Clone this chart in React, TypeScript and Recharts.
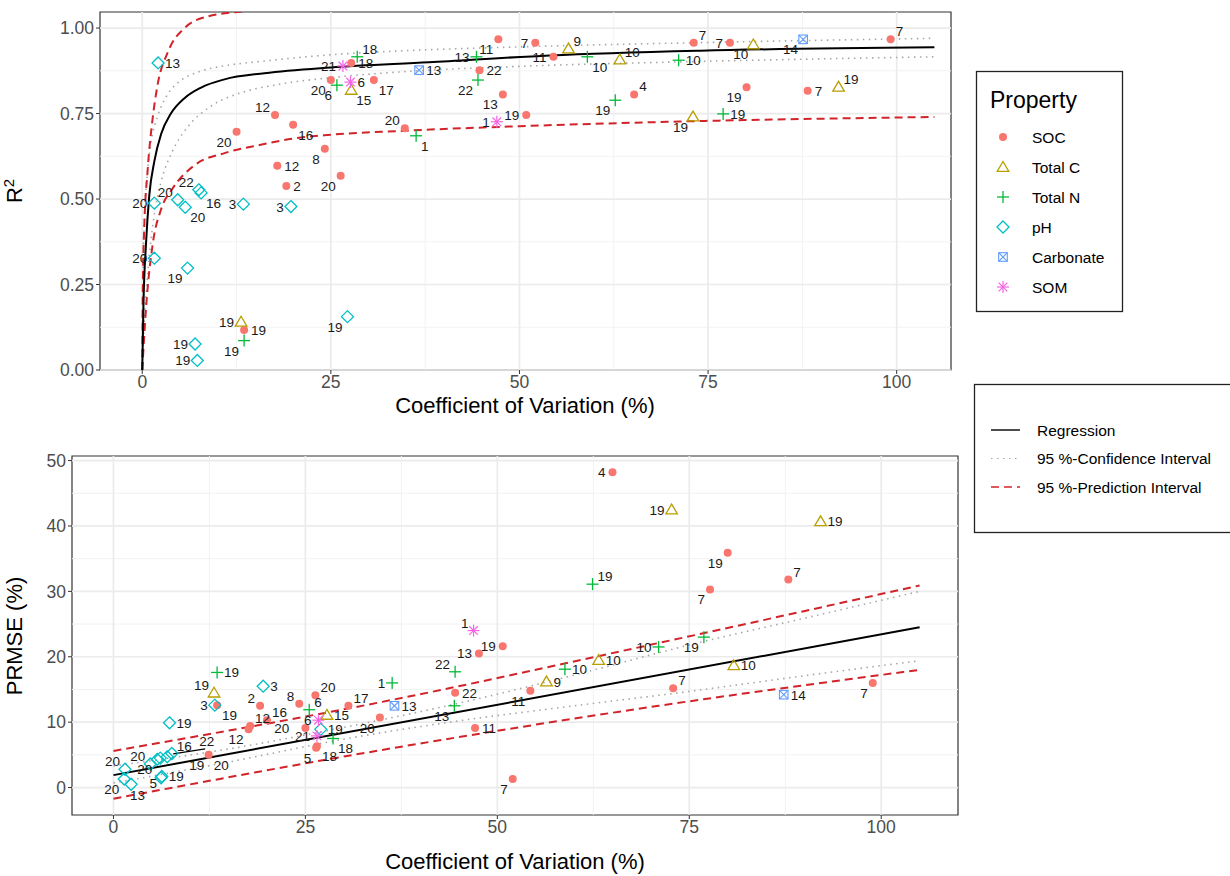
import React from 'react';
import { ScatterChart, Scatter, XAxis, YAxis, ReferenceLine, ReferenceArea } from 'recharts';

type Pt = [number, number, string];
type XY = [number, number];

const FONT = '"Liberation Sans", Arial, sans-serif';

// axes
const cvTicks = [0, 25, 50, 75, 100];
const cvMinor = [12.5, 37.5, 62.5, 87.5];
const r2Ticks = [0, 0.25, 0.5, 0.75, 1];
const r2Minor = [0.125, 0.375, 0.625, 0.875];
const prTicks = [0, 10, 20, 30, 40, 50];
const prMinor = [5, 15, 25, 35, 45];

// ---- top panel: R2 vs CV, [cv, r2, study] ----
const socR2: Pt[] = [
  [99.2, 0.967, '7'], [73.1, 0.957, '7'], [77.9, 0.957, '7'], [80.1, 0.827, '19'], [88.2, 0.817, '7'],
  [47.2, 0.967, '11'], [52.1, 0.957, '7'], [54.5, 0.916, '11'], [44.7, 0.877, '22'], [47.8, 0.806, '13'],
  [50.9, 0.746, '19'], [65.2, 0.806, '4'], [34.8, 0.707, '20'], [27.7, 0.898, '18'], [25.0, 0.848, '20'],
  [30.7, 0.848, '17'], [17.6, 0.746, '12'], [20.0, 0.717, '16'], [12.5, 0.697, '20'], [24.2, 0.647, '8'],
  [17.9, 0.597, '12'], [19.1, 0.538, '2'], [26.3, 0.568, '20'], [13.5, 0.117, '19'],
];
const totCR2: Pt[] = [
  [56.5, 0.94, '9'], [63.3, 0.908, '10'], [81.0, 0.952, '10'], [92.3, 0.828, '19'], [73.0, 0.741, '19'],
  [27.7, 0.819, '15'], [13.1, 0.141, '19'],
];
const totNR2: Pt[] = [
  [28.5, 0.916, '18'], [25.8, 0.833, '6'], [36.3, 0.685, '1'], [44.3, 0.916, '13'], [44.5, 0.848, '22'],
  [59.0, 0.916, '10'], [71.1, 0.906, '10'], [62.7, 0.789, '19'], [77.0, 0.749, '19'], [13.5, 0.086, '19'],
];
const phR2: Pt[] = [
  [2.1, 0.898, '13'], [1.6, 0.488, '20'], [4.7, 0.498, '20'], [5.7, 0.476, '20'], [7.5, 0.527, '22'],
  [7.8, 0.518, '16'], [13.4, 0.485, '3'], [19.7, 0.478, '3'], [1.6, 0.327, '20'], [6.0, 0.298, '19'],
  [7.0, 0.076, '19'], [7.3, 0.028, '19'], [27.2, 0.156, '19'],
];
const carbR2: Pt[] = [[36.7, 0.877, '13'], [87.6, 0.967, '14']];
const somR2: Pt[] = [[47.0, 0.726, '1'], [26.6, 0.889, '21'], [27.6, 0.842, '6']];

// label side for each study number
const socR2Side = 'ru ru l lb r lb l l r lb l ru lu r lb rb lu rb lb lb r r lb r';
const totCR2Side = 'ru ru lb ru lb rb l';
const totNR2Side = 'ru lb rb l lb rb r lb r lb';
const phR2Side = 'r l lu rb lu rb l l l lb l l lb';
const carbR2Side = 'r lb';
const somR2Side = 'l l r';

const regR2: XY[] = [
  [0, 0], [0.17, 0.2], [0.5, 0.37], [0.93, 0.51], [1.6, 0.61], [2.5, 0.69], [3.8, 0.75], [5.6, 0.795],
  [7.8, 0.826], [10.9, 0.85], [16.2, 0.868], [25, 0.885], [38, 0.9], [54, 0.92], [74, 0.934], [105, 0.944],
];
const ciUpR2: XY[] = [
  [0, 0], [0.12, 0.3], [0.35, 0.47], [0.7, 0.58], [1.2, 0.67], [2, 0.74], [3.2, 0.8], [5, 0.845],
  [7.5, 0.872], [11, 0.89], [16, 0.903], [25, 0.922], [35, 0.934], [50, 0.945], [75, 0.958], [105, 0.97],
];
const ciLoR2: XY[] = [
  [0, 0], [0.3, 0.15], [0.8, 0.3], [1.5, 0.44], [2.5, 0.55], [4, 0.64], [6, 0.71], [9, 0.77],
  [13, 0.81], [18, 0.835], [25, 0.855], [35, 0.873], [50, 0.888], [75, 0.903], [105, 0.916],
];
const piUpR2: XY[] = [
  [0, 0], [0.08, 0.25], [0.27, 0.42], [0.7, 0.58], [1.4, 0.74], [2, 0.83], [3.4, 0.93], [5.6, 1.0],
  [8.7, 1.034], [13.6, 1.049], [20, 1.06],
];
const piLoR2: XY[] = [
  [0, 0], [0.5, 0.18], [1.4, 0.37], [2.5, 0.47], [4, 0.53], [7, 0.6], [11, 0.635], [16, 0.66],
  [20, 0.677], [25, 0.688], [34, 0.699], [50, 0.713], [70, 0.726], [105, 0.74],
];

// ---- bottom panel: PRMSE vs CV ----
const socPr: Pt[] = [
  [65.0, 48.2, '4'], [80.0, 35.9, '19'], [87.9, 31.8, '7'], [77.7, 30.3, '7'], [72.9, 15.2, '7'],
  [98.9, 16.0, '7'], [50.7, 21.6, '19'], [47.6, 20.5, '13'], [44.5, 14.5, '22'], [54.3, 14.8, '11'],
  [47.1, 9.1, '11'], [52.0, 1.3, '7'], [34.7, 10.7, '20'], [30.6, 12.5, '17'], [26.3, 14.1, '20'],
  [24.2, 12.8, '8'], [19.1, 12.5, '2'], [20.0, 10.3, '16'], [17.8, 9.4, '12'], [17.6, 8.9, '12'],
  [25.0, 9.1, '20'], [26.5, 6.3, '18'], [26.4, 6.1, '5'], [12.4, 5.0, '20'], [13.5, 12.6, '19'],
];
const totCPr: Pt[] = [
  [72.7, 42.5, '19'], [92.1, 40.7, '19'], [80.8, 18.7, '10'], [63.2, 19.5, '10'], [56.4, 16.2, '9'],
  [27.8, 11.1, '15'], [13.1, 14.5, '19'],
];
const totNPr: Pt[] = [
  [25.5, 11.9, '6'], [28.6, 7.5, '18'], [36.3, 16.0, '1'], [44.5, 17.7, '22'], [44.4, 12.5, '13'],
  [58.8, 18.1, '10'], [71.0, 21.5, '10'], [62.4, 31.1, '19'], [76.9, 23.0, '19'], [13.5, 17.6, '19'],
];
const phPr: Pt[] = [
  [1.5, 2.8, '20'], [1.4, 1.3, '20'], [2.3, 0.5, '13'], [6.3, 1.7, '19'], [6.2, 1.5, '5'],
  [4.8, 3.6, '20'], [5.7, 4.3, '20'], [6.1, 4.5, '19'], [7.0, 4.7, '22'], [7.6, 5.2, '16'],
  [7.3, 9.9, '19'], [13.2, 12.6, '3'], [19.5, 15.5, '3'], [27.0, 8.9, '19'],
];
const carbPr: Pt[] = [[36.6, 12.5, '13'], [87.3, 14.2, '14']];
const somPr: Pt[] = [[46.9, 24.0, '1'], [26.7, 10.3, '6'], [26.5, 7.9, '21']];

const socPrSide = 'l lb ru lb ru lb l l r lb r lb lb ru ru lu lu ru ru lb ll rb lb rb rb';
const totCPrSide = 'l r r r r r lu';
const totNPrSide = 'ru rb l lu lb r l ru lb r';
const phPrSide = 'lu lb b r lm lu lb fb fs ru r l r r';
const carbPrSide = 'r r';
const somPrSide = 'lu l l';

const regPr: XY[] = [[0, 1.9], [105, 24.5]];
const ciUpPr: XY[] = [[0, 3.3], [15, 5.9], [30, 9.2], [45, 12.9], [60, 17.2], [75, 21.8], [90, 25.9], [105, 30.0]];
const ciLoPr: XY[] = [[0, 0.7], [15, 3.9], [30, 7.4], [45, 10.2], [60, 12.5], [75, 14.7], [90, 17.1], [105, 19.4]];
const piUpPr: XY[] = [[0, 5.6], [35, 13.1], [71, 22.1], [105, 30.9]];
const piLoPr: XY[] = [[0, -1.7], [35, 5.75], [71, 12.5], [105, 18.0]];

const properties = [
  { name: 'SOC', kind: 'circle', color: '#F8766D', top: socR2, topSide: socR2Side, bot: socPr, botSide: socPrSide },
  { name: 'Total C', kind: 'tri', color: '#B79F00', top: totCR2, topSide: totCR2Side, bot: totCPr, botSide: totCPrSide },
  { name: 'Total N', kind: 'plus', color: '#00BA38', top: totNR2, topSide: totNR2Side, bot: totNPr, botSide: totNPrSide },
  { name: 'pH', kind: 'diamond', color: '#00BFC4', top: phR2, topSide: phR2Side, bot: phPr, botSide: phPrSide },
  { name: 'Carbonate', kind: 'sqx', color: '#619CFF', top: carbR2, topSide: carbR2Side, bot: carbPr, botSide: carbPrSide },
  { name: 'SOM', kind: 'star', color: '#F564E3', top: somR2, topSide: somR2Side, bot: somPr, botSide: somPrSide },
];

const toPts = (rows: Pt[], sides: string) => {
  const s = sides.split(' ');
  return rows.map(([x, y, id], i) => ({ x, y, id, side: s[i] || 'r' }));
};
const toLine = (rows: XY[]) => rows.map(([x, y]) => ({ x, y }));

const LABEL_OFF: Record<string, [number, number, string]> = {
  r: [7, 5, 'start'], l: [-7, 5, 'end'], ll: [-16, 5, 'end'], lm: [-4, 10, 'end'],
  ru: [5, -3, 'start'], lu: [-5, -3, 'end'],
  rb: [5, 15, 'start'], lb: [-5, 15, 'end'], b: [-1, 16, 'start'],
  fs: [32, -11, 'start'], fb: [29, 12, 'start'],
};

function Marker({ kind, x, y, color }: { kind: string; x: number; y: number; color: string }) {
  const sw = 1.3;
  switch (kind) {
    case 'circle':
      return <circle cx={x} cy={y} r={4} fill={color} />;
    case 'tri':
      return <polygon points={`${x},${y - 5.5} ${x + 5.8},${y + 4.3} ${x - 5.8},${y + 4.3}`} fill="none" stroke={color} strokeWidth={sw} />;
    case 'plus':
      return (
        <g stroke={color} strokeWidth={sw}>
          <line x1={x - 6} y1={y} x2={x + 6} y2={y} />
          <line x1={x} y1={y - 6} x2={x} y2={y + 6} />
        </g>
      );
    case 'diamond':
      return <polygon points={`${x},${y - 6} ${x + 6},${y} ${x},${y + 6} ${x - 6},${y}`} fill="none" stroke={color} strokeWidth={sw} />;
    case 'sqx':
      return (
        <g stroke={color} strokeWidth={1.1} fill="none">
          <rect x={x - 4.3} y={y - 4.3} width={8.6} height={8.6} />
          <line x1={x - 4.3} y1={y - 4.3} x2={x + 4.3} y2={y + 4.3} />
          <line x1={x - 4.3} y1={y + 4.3} x2={x + 4.3} y2={y - 4.3} />
        </g>
      );
    default:
      return (
        <g stroke={color} strokeWidth={1.2}>
          <line x1={x - 6} y1={y} x2={x + 6} y2={y} />
          <line x1={x} y1={y - 6} x2={x} y2={y + 6} />
          <line x1={x - 4.3} y1={y - 4.3} x2={x + 4.3} y2={y + 4.3} />
          <line x1={x - 4.3} y1={y + 4.3} x2={x + 4.3} y2={y - 4.3} />
        </g>
      );
  }
}

const pointShape = (kind: string, color: string) => (p: any) => {
  const { cx, cy, payload } = p;
  if (cx == null || cy == null) return <g />;
  const [dx, dy, anchor] = LABEL_OFF[payload.side] || LABEL_OFF.r;
  return (
    <g>
      {payload.side === 'fs' && <line x1={cx + 6} y1={cy - 3} x2={cx + 38} y2={cy - 8} stroke="#000" strokeWidth={1.3} />}
      <Marker kind={kind} x={cx} y={cy} color={color} />
      <text x={cx + dx} y={cy + dy} textAnchor={anchor as any} fontSize={13.5} fontFamily={FONT} fill="#1a1a1a">
        {payload.id}
      </text>
    </g>
  );
};

const noDot = () => <g />;

const lineStyles = {
  reg: { stroke: '#000', strokeWidth: 2 },
  ci: { stroke: '#A6A6A6', strokeWidth: 1.6, strokeDasharray: '1.5 4.5' },
  pi: { stroke: '#D1232A', strokeWidth: 2, strokeDasharray: '8 5' },
};

interface PanelProps {
  width: number;
  height: number;
  margin: { top: number; right: number; bottom: number; left: number };
  yWidth: number;
  xHeight: number;
  xDom: [number, number];
  yDom: [number, number];
  yTicks: number[];
  yMinor: number[];
  yFmt: (v: number) => string;
  curves: { data: XY[]; style: any }[];
  which: 'top' | 'bot';
}

function Panel(p: PanelProps) {
  const tick = { fill: '#4D4D4D', fontSize: 17.5, fontFamily: FONT };
  return (
    <ScatterChart width={p.width} height={p.height} margin={p.margin}>
      <XAxis
        type="number" dataKey="x" domain={p.xDom} ticks={cvTicks} allowDataOverflow height={p.xHeight}
        axisLine={false} tickLine={{ stroke: '#333' }} tickSize={4} tick={tick} interval={0}
      />
      <YAxis
        type="number" dataKey="y" domain={p.yDom} ticks={p.yTicks} allowDataOverflow width={p.yWidth}
        axisLine={false} tickLine={{ stroke: '#333' }} tickSize={4} tick={tick} interval={0} tickFormatter={p.yFmt}
      />
      {cvMinor.map((v) => <ReferenceLine key={'xm' + v} x={v} stroke="#F2F2F2" strokeWidth={1} />)}
      {p.yMinor.map((v) => <ReferenceLine key={'ym' + v} y={v} stroke="#F2F2F2" strokeWidth={1} />)}
      {cvTicks.map((v) => <ReferenceLine key={'xM' + v} x={v} stroke="#EBEBEB" strokeWidth={1.7} />)}
      {p.yTicks.map((v) => <ReferenceLine key={'yM' + v} y={v} stroke="#EBEBEB" strokeWidth={1.7} />)}
      {p.curves.map((c, i) => (
        <Scatter
          key={'c' + i} data={toLine(c.data)} line={c.style} lineJointType="monotoneX"
          shape={noDot} isAnimationActive={false}
        />
      ))}
      {properties.map((pr) => (
        <Scatter
          key={pr.name}
          name={pr.name}
          data={p.which === 'top' ? toPts(pr.top, pr.topSide) : toPts(pr.bot, pr.botSide)}
          shape={pointShape(pr.kind, pr.color)}
          isAnimationActive={false}
        />
      ))}
      <ReferenceArea x1={p.xDom[0]} x2={p.xDom[1]} y1={p.yDom[0]} y2={p.yDom[1]} fill="none" stroke="#333" strokeWidth={1.2} />
    </ScatterChart>
  );
}

const lineLegend = [
  { label: 'Regression', style: lineStyles.reg },
  { label: '95 %-Confidence Interval', style: lineStyles.ci },
  { label: '95 %-Prediction Interval', style: lineStyles.pi },
];

export default function App() {
  return (
    <div style={{ position: 'absolute', left: 0, top: 0, width: 1230, height: 876, background: '#fff', fontFamily: FONT }}>
      <div style={{ position: 'absolute', left: 0, top: 0 }}>
        <Panel
          which="top" width={960} height={420} margin={{ top: 12, right: 9, bottom: 0, left: 0 }}
          yWidth={100} xHeight={50} xDom={[-5.6, 107.2]} yDom={[0, 1.047]} yTicks={r2Ticks} yMinor={r2Minor}
          yFmt={(v) => v.toFixed(2)}
          curves={[
            { data: ciUpR2, style: lineStyles.ci }, { data: ciLoR2, style: lineStyles.ci },
            { data: piUpR2, style: lineStyles.pi }, { data: piLoR2, style: lineStyles.pi },
            { data: regR2, style: lineStyles.reg },
          ]}
        />
      </div>
      <div style={{ position: 'absolute', left: 0, top: 440 }}>
        <Panel
          which="bot" width={966} height={430} margin={{ top: 16, right: 8, bottom: 0, left: 0 }}
          yWidth={72} xHeight={55} xDom={[-5.4, 110]} yDom={[-4.2, 50.7]} yTicks={prTicks} yMinor={prMinor}
          yFmt={(v) => String(v)}
          curves={[
            { data: ciUpPr, style: lineStyles.ci }, { data: ciLoPr, style: lineStyles.ci },
            { data: piUpPr, style: lineStyles.pi }, { data: piLoPr, style: lineStyles.pi },
            { data: regPr, style: lineStyles.reg },
          ]}
        />
      </div>
      <svg width={1230} height={876} style={{ position: 'absolute', left: 0, top: 0, pointerEvents: 'none' }} fontFamily={FONT}>
        <text x={525} y={413} textAnchor="middle" fontSize={22}>Coefficient of Variation (%)</text>
        <text transform="translate(22,191) rotate(-90)" textAnchor="middle" fontSize={22}>
          R<tspan dy={-8} fontSize={15}>2</tspan>
        </text>
        <text x={515} y={869} textAnchor="middle" fontSize={22}>Coefficient of Variation (%)</text>
        <text transform="translate(22,636) rotate(-90)" textAnchor="middle" fontSize={22}>PRMSE (%)</text>

        <rect x={976.5} y={71.5} width={146} height={240} fill="#fff" stroke="#222" strokeWidth={1.3} />
        <text x={990} y={108} fontSize={23}>Property</text>
        {properties.map((pr, i) => (
          <g key={pr.name}>
            <Marker kind={pr.kind} x={1003} y={137 + i * 30} color={pr.color} />
            <text x={1032} y={142.5 + i * 30} fontSize={15.5}>{pr.name}</text>
          </g>
        ))}

        <rect x={974.5} y={384.5} width={270} height={148} fill="#fff" stroke="#222" strokeWidth={1.3} />
        {lineLegend.map((l, i) => (
          <g key={l.label}>
            <line x1={991} x2={1020} y1={430 + i * 28.5} y2={430 + i * 28.5} {...l.style} strokeWidth={l.style.strokeWidth * 0.7} />
            <text x={1037} y={435.5 + i * 28.5} fontSize={15.5}>{l.label}</text>
          </g>
        ))}
      </svg>
    </div>
  );
}
